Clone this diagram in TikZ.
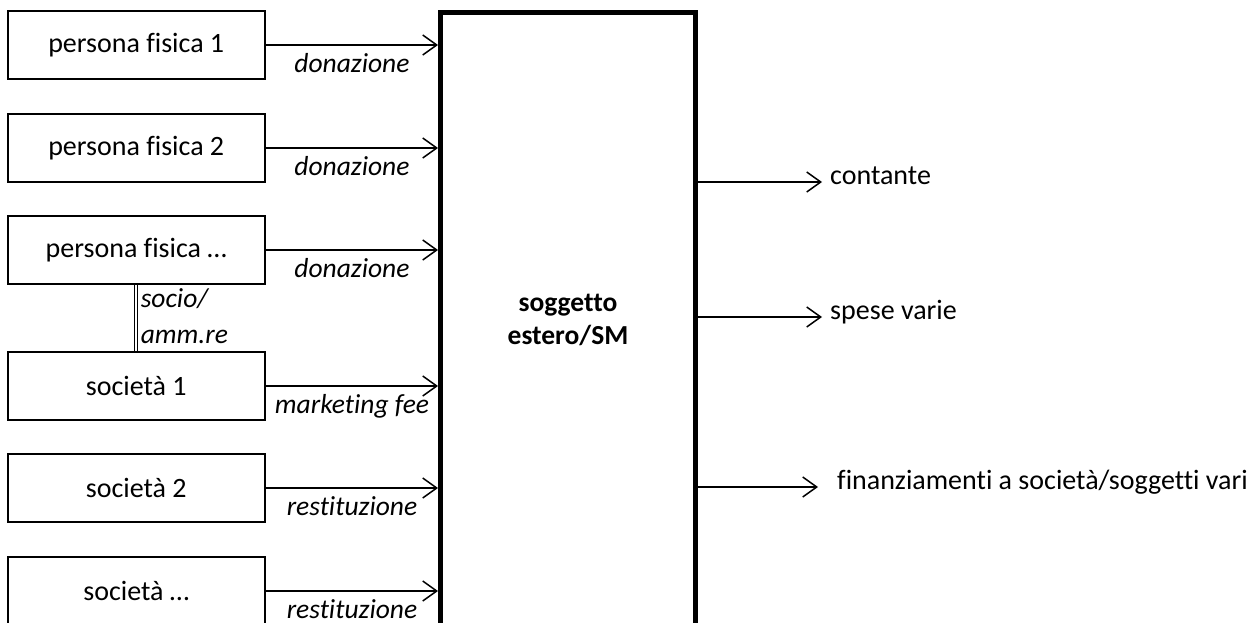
\documentclass[tikz,border=0pt]{standalone}
\usepackage{fontspec}
\setmainfont{Carlito}[Ligatures=NoCommon]
\usetikzlibrary{arrows.meta}

\begin{document}
\begin{tikzpicture}[x=1pt, y=-1pt, line join=miter,
  ente/.style={draw, line width=2pt, minimum width=257.5pt, minimum height=68pt, inner sep=0pt,
               font=\fontsize{28}{33}\selectfont},
  flusso/.style={line width=1.5pt, -{Straight Barb[length=14pt,width=20pt,line width=1.5pt]}},
  causale/.style={inner sep=0pt, font=\fontsize{27.5}{36}\selectfont\itshape},
  uscita/.style={anchor=west, inner sep=0pt, text height=0.75em, text depth=0.25em,
                 font=\fontsize{28}{33}\selectfont}]

  %% ════ 左侧方框 ════
  \node[ente] (pf1)  at (136.25,45)  {persona fisica 1};
  \node[ente] (pf2)  at (136.25,148) {persona fisica 2};
  \node[ente] (pf3)  at (136.25,250) {persona fisica …};
  \node[ente] (soc1) at (136.25,386) {società 1};
  \node[ente] (soc2) at (136.25,488) {società 2};
  \node[ente] (soc3) at (136.25,591) {società …};   % 底边在画布外

  %% ════ 中间大框（底边在画布外）════
  \node[draw, line width=5pt, minimum width=255pt, minimum height=615pt, align=center,
        font=\fontsize{27.5}{33}\selectfont\bfseries] (sm) at (568,320) {soggetto\\estero/SM};

  %% ════ 输入箭头 ════
  \draw[flusso] (pf1.east)  -- (pf1.east -| sm.west)  node[causale, midway, below=8pt] {donazione};
  \draw[flusso] (pf2.east)  -- (pf2.east -| sm.west)  node[causale, midway, below=8pt] {donazione};
  \draw[flusso] (pf3.east)  -- (pf3.east -| sm.west)  node[causale, midway, below=8pt] {donazione};
  \draw[flusso] (soc1.east) -- (soc1.east -| sm.west) node[causale, midway, below=8pt] {marketing fee};
  \draw[flusso] (soc2.east) -- (soc2.east -| sm.west) node[causale, midway, below=8pt] {restituzione};
  \draw[flusso] (soc3.east) -- (soc3.east -| sm.west) node[causale, midway, below=8pt] {restituzione};

  %% ════ 双线：socio/amm.re ════
  \draw[double, double distance=2pt, line width=1pt] (pf3.south) -- (soc1.north)
    node[causale, midway, anchor=west, align=left, xshift=4pt, yshift=2pt] (ruolo) {socio/\\amm.re};

  %% ════ 输出 ════
  \node[uscita] (cont)  at (830,182) {contante};
  \node[uscita] (spese) at (830,317) {spese varie};
  \node[uscita] (fin)   at (837,487) {finanziamenti a società/soggetti vari};
  \draw[flusso] (sm.east |- cont.west)  -- ([xshift=-8pt]cont.west);
  \draw[flusso] (sm.east |- spese.west) -- ([xshift=-8pt]spese.west);
  \draw[flusso] (sm.east |- fin.west)   -- ([xshift=-19pt]fin.west);

  % 钉死画布
  \pgfresetboundingbox
  \path[use as bounding box] (0,0) rectangle (1247,623);
\end{tikzpicture}
\end{document}
